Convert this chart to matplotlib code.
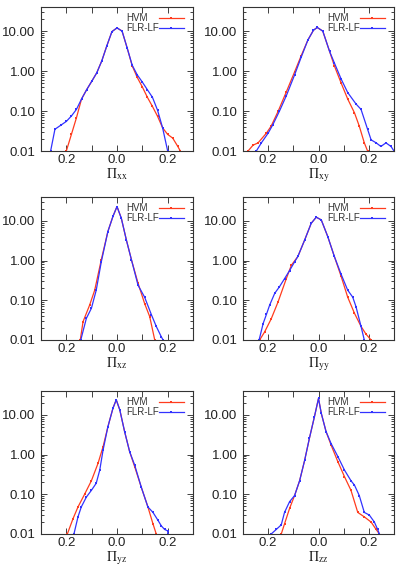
import matplotlib
matplotlib.use('Agg')
import matplotlib.pyplot as plt
from matplotlib.ticker import LogLocator, NullFormatter

plt.rcParams['font.family'] = ['Liberation Sans', 'DejaVu Sans']
plt.rcParams['mathtext.fontset'] = 'stix'

# ---------------- data ----------------
# Pi_xx
xx_hvm_x = [-0.20, -0.18, -0.16, -0.14, -0.12, -0.10, -0.08, -0.06, -0.04, -0.02, 0.00, 0.02, 0.04, 0.06, 0.08, 0.10, 0.12, 0.14, 0.16, 0.18, 0.20, 0.22, 0.24, 0.25]
xx_hvm_y = [0.010, 0.026, 0.068, 0.20, 0.34, 0.55, 0.90, 1.8, 4.3, 9.7, 12.0, 10.0, 3.8, 1.35, 0.69, 0.40, 0.22, 0.13, 0.074, 0.038, 0.026, 0.021, 0.013, 0.010]
xx_flr_x = [-0.262, -0.245, -0.22, -0.20, -0.18, -0.16, -0.14, -0.12, -0.10, -0.08, -0.06, -0.04, -0.02, 0.00, 0.02, 0.04, 0.06, 0.08, 0.10, 0.12, 0.14, 0.16, 0.18, 0.20]
xx_flr_y = [0.010, 0.035, 0.045, 0.055, 0.075, 0.11, 0.20, 0.34, 0.55, 0.90, 1.8, 4.3, 9.7, 12.0, 10.0, 3.8, 1.4, 0.80, 0.53, 0.34, 0.22, 0.105, 0.038, 0.010]

# Pi_xy
xy_hvm_x = [-0.28, -0.26, -0.24, -0.207, -0.188, -0.16, -0.128, -0.095, -0.069, -0.042, -0.02, -0.005, 0.017, 0.044, 0.063, 0.09, 0.116, 0.143, 0.162, 0.182, 0.195]
xy_hvm_y = [0.010, 0.014, 0.016, 0.028, 0.042, 0.10, 0.30, 0.95, 2.4, 6.0, 10.5, 12.3, 10.0, 3.1, 1.35, 0.50, 0.20, 0.09, 0.042, 0.016, 0.010]
xy_flr_x = [-0.247, -0.227, -0.20, -0.181, -0.155, -0.128, -0.095, -0.069, -0.042, -0.02, -0.005, 0.017, 0.044, 0.063, 0.09, 0.116, 0.149, 0.169, 0.195, 0.209, 0.229, 0.248, 0.268, 0.288, 0.30]
xy_flr_y = [0.010, 0.016, 0.028, 0.046, 0.10, 0.24, 0.80, 2.2, 6.0, 10.5, 12.3, 10.0, 3.1, 1.6, 0.63, 0.29, 0.15, 0.11, 0.035, 0.019, 0.016, 0.013, 0.016, 0.013, 0.010]

# Pi_xz
xz_hvm_x = [-0.145, -0.134, -0.108, -0.088, -0.062, -0.036, -0.016, 0.00, 0.017, 0.037, 0.057, 0.083, 0.109, 0.129, 0.149]
xz_hvm_y = [0.010, 0.029, 0.076, 0.18, 1.05, 5.4, 13.0, 23.0, 11.7, 3.3, 1.05, 0.27, 0.083, 0.039, 0.010]
xz_flr_x = [-0.143, -0.121, -0.101, -0.082, -0.062, -0.036, -0.016, 0.00, 0.017, 0.037, 0.057, 0.083, 0.109, 0.136, 0.155, 0.175, 0.182]
xz_flr_y = [0.010, 0.035, 0.063, 0.18, 0.93, 5.4, 13.0, 23.0, 11.7, 3.3, 1.05, 0.24, 0.12, 0.043, 0.022, 0.012, 0.010]

# Pi_yy
yy_hvm_x = [-0.234, -0.214, -0.188, -0.161, -0.128, -0.108, -0.082, -0.055, -0.029, -0.009, 0.011, 0.037, 0.063, 0.09, 0.116, 0.143, 0.169, 0.189, 0.209]
yy_hvm_y = [0.010, 0.016, 0.034, 0.09, 0.35, 0.76, 1.27, 3.3, 8.7, 12.4, 10.6, 4.0, 1.27, 0.40, 0.12, 0.047, 0.022, 0.014, 0.010]
yy_flr_x = [-0.236, -0.22, -0.207, -0.194, -0.174, -0.155, -0.135, -0.115, -0.095, -0.082, -0.055, -0.029, -0.009, 0.011, 0.037, 0.063, 0.09, 0.116, 0.136, 0.149, 0.169, 0.182]
yy_flr_y = [0.010, 0.026, 0.044, 0.076, 0.15, 0.22, 0.35, 0.56, 0.93, 1.27, 3.3, 8.7, 12.4, 10.6, 4.0, 1.27, 0.45, 0.18, 0.12, 0.069, 0.022, 0.010]

# Pi_yz
yz_hvm_x = [-0.196, -0.174, -0.154, -0.128, -0.101, -0.075, -0.055, -0.036, -0.016, -0.003, 0.011, 0.03, 0.05, 0.07, 0.096, 0.122, 0.142, 0.155]
yz_hvm_y = [0.010, 0.024, 0.048, 0.10, 0.22, 0.60, 1.58, 5.0, 14.7, 24.0, 13.4, 3.8, 1.18, 0.49, 0.15, 0.048, 0.018, 0.010]
yz_flr_x = [-0.17, -0.154, -0.141, -0.121, -0.101, -0.082, -0.068, -0.055, -0.036, -0.016, -0.003, 0.011, 0.03, 0.05, 0.07, 0.096, 0.122, 0.142, 0.162, 0.175, 0.188, 0.20, 0.201]
yz_flr_y = [0.010, 0.027, 0.048, 0.085, 0.126, 0.19, 0.41, 1.3, 5.0, 14.7, 24.0, 13.4, 3.8, 1.18, 0.54, 0.15, 0.048, 0.035, 0.022, 0.016, 0.013, 0.012, 0.010]

# Pi_zz
zz_hvm_x = [-0.148, -0.135, -0.115, -0.095, -0.075, -0.055, -0.036, -0.016, 0.00, 0.011, 0.03, 0.05, 0.077, 0.103, 0.129, 0.156, 0.182, 0.209, 0.229, 0.242]
zz_hvm_y = [0.010, 0.018, 0.044, 0.093, 0.22, 0.72, 2.6, 9.1, 26.0, 11.0, 3.8, 1.74, 0.66, 0.28, 0.126, 0.035, 0.027, 0.020, 0.013, 0.010]
zz_flr_x = [-0.188, -0.168, -0.148, -0.135, -0.115, -0.095, -0.075, -0.055, -0.036, -0.016, 0.00, 0.011, 0.03, 0.05, 0.077, 0.103, 0.129, 0.143, 0.162, 0.182, 0.202, 0.222, 0.235, 0.242]
zz_flr_y = [0.010, 0.013, 0.017, 0.035, 0.065, 0.093, 0.22, 0.72, 2.6, 9.1, 26.0, 11.0, 3.8, 1.9, 0.89, 0.41, 0.22, 0.17, 0.093, 0.035, 0.030, 0.020, 0.013, 0.010]

labels = ['xx', 'xy', 'xz', 'yy', 'yz', 'zz']
series = [
    (xx_hvm_x, xx_hvm_y, xx_flr_x, xx_flr_y),
    (xy_hvm_x, xy_hvm_y, xy_flr_x, xy_flr_y),
    (xz_hvm_x, xz_hvm_y, xz_flr_x, xz_flr_y),
    (yy_hvm_x, yy_hvm_y, yy_flr_x, yy_flr_y),
    (yz_hvm_x, yz_hvm_y, yz_flr_x, yz_flr_y),
    (zz_hvm_x, zz_hvm_y, zz_flr_x, zz_flr_y),
]
legend_names = ['HVM', 'FLR-LF']

RED = '#ff3c1e'
BLUE = '#3232ff'

W, H = 399, 566
boxes = [(41, 7, 193, 151), (243, 7, 394, 151),
         (41, 197, 193, 340), (243, 197, 394, 340),
         (41, 391, 193, 534), (243, 391, 394, 534)]

fig = plt.figure(figsize=(W / 100, H / 100), dpi=100)

for (l, t, r, b), lab, (hx, hy, fx, fy) in zip(boxes, labels, series):
    ax = fig.add_axes([l / W, 1 - b / H, (r - l) / W, (b - t) / H])
    ax.plot(hx, hy, color=RED, lw=0.9, marker='s', ms=1.5, mew=0, clip_on=True)
    ax.plot(fx, fy, color=BLUE, lw=0.9, marker='s', ms=1.5, mew=0, clip_on=True)
    ax.set_yscale('log')
    ax.set_ylim(0.01, 40)
    ax.set_xlim(-0.3, 0.3)
    ax.set_yticks([0.01, 0.1, 1, 10])
    ax.set_yticklabels(['0.01', '0.10', '1.00', '10.00'])
    ax.yaxis.set_minor_locator(LogLocator(base=10, subs=range(2, 10)))
    ax.yaxis.set_minor_formatter(NullFormatter())
    ax.set_xticks([-0.2, -0.1, 0.0, 0.1, 0.2])
    ax.set_xticklabels(['0.2', '', '0.0', '', '0.2'])
    ax.tick_params(which='both', direction='in', top=True, right=True,
                   labelsize=9.5, colors='#222222', width=0.6)
    ax.tick_params(which='major', length=4, pad=4)
    ax.tick_params(axis='x', which='major', pad=2.5)
    ax.tick_params(which='minor', length=2)
    for s in ax.spines.values():
        s.set_linewidth(0.8)
        s.set_color('#333333')
    ax.set_xlabel(r'$\Pi_{\mathrm{%s}}$' % lab, fontsize=10, labelpad=0,
                  color='#222222')
    # legend (gnuplot style: text left, sample line right)
    for k, (name, col) in enumerate(zip(legend_names, [RED, BLUE])):
        yk = 0.925 - k * 0.07
        ax.text(0.56, yk, name, transform=ax.transAxes, fontsize=7,
                color='#333333', va='center', ha='left')
        ax.plot([0.775, 0.94], [yk, yk], transform=ax.transAxes,
                color=col, lw=0.9)
        ax.plot([0.8575], [yk], transform=ax.transAxes, color=col,
                marker='s', ms=1.5, mew=0)

fig.savefig('out.png', dpi=100)
